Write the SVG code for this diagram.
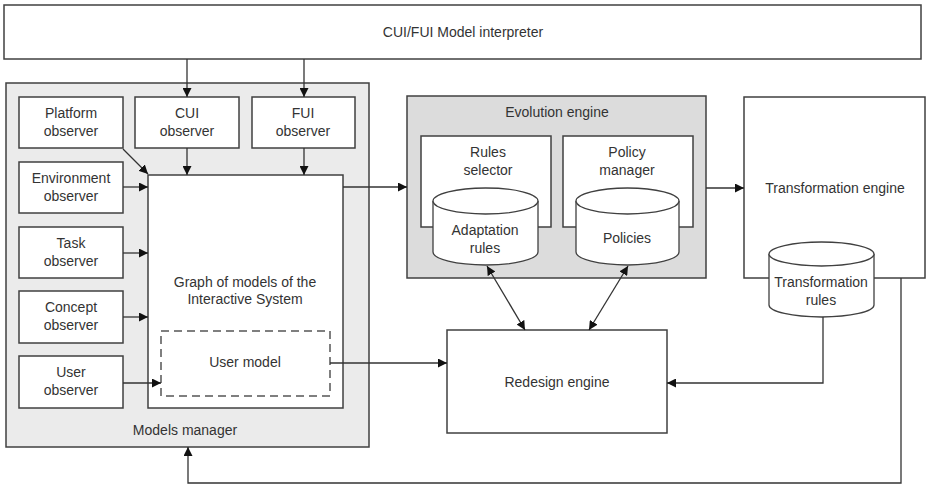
<svg xmlns="http://www.w3.org/2000/svg" width="926" height="487" viewBox="0 0 926 487">
<style>
.box{fill:#fff;stroke:#404040;stroke-width:1.5}
.grp1{fill:#ebebeb;stroke:#404040;stroke-width:1.5}
.grp2{fill:#dcdcdc;stroke:#404040;stroke-width:1.5}
.dash{fill:none;stroke:#555;stroke-width:1.5;stroke-dasharray:8,5}
.cyl{fill:#fff;stroke:#404040;stroke-width:1.3}
text{font-family:"Liberation Sans",Arial,sans-serif;font-size:14px;fill:#333;text-anchor:middle}
.c{fill:none;stroke:#333;stroke-width:1.3}
</style>
<defs>
<marker id="a" viewBox="0 0 10 10" refX="10" refY="5" markerWidth="9" markerHeight="9" markerUnits="userSpaceOnUse" orient="auto-start-reverse">
<path d="M0,0 L10,5 L0,10 Z" fill="#111"/>
</marker>
</defs>

<g id="interpreter">
<rect class="box" x="4" y="5" width="917" height="54"/>
<text x="463" y="37">CUI/FUI Model interpreter</text>
</g>

<g id="models-manager">
<rect class="grp1" x="6" y="83" width="363" height="364"/>
<text x="185" y="435">Models manager</text>
</g>

<g id="platform-observer">
<rect class="box" x="19" y="97" width="104" height="51"/>
<text x="71" y="118">Platform</text><text x="71" y="136">observer</text>
</g>
<g id="cui-observer">
<rect class="box" x="135" y="97" width="104" height="51"/>
<text x="187" y="118">CUI</text><text x="187" y="136">observer</text>
</g>
<g id="fui-observer">
<rect class="box" x="252" y="97" width="103" height="51"/>
<text x="303" y="118">FUI</text><text x="303" y="136">observer</text>
</g>
<g id="environment-observer">
<rect class="box" x="19" y="162" width="104" height="51"/>
<text x="71" y="183">Environment</text><text x="71" y="201">observer</text>
</g>
<g id="task-observer">
<rect class="box" x="19" y="227" width="104" height="51"/>
<text x="71" y="248">Task</text><text x="71" y="266">observer</text>
</g>
<g id="concept-observer">
<rect class="box" x="19" y="291" width="104" height="52"/>
<text x="71" y="312">Concept</text><text x="71" y="330">observer</text>
</g>
<g id="user-observer">
<rect class="box" x="19" y="356" width="104" height="52"/>
<text x="71" y="377">User</text><text x="71" y="395">observer</text>
</g>

<g id="graph-of-models">
<rect class="box" x="148" y="175" width="195" height="233"/>
<text x="245" y="287">Graph of models of the</text>
<text x="245" y="304">Interactive System</text>
</g>
<g id="user-model">
<rect class="dash" x="161" y="331" width="169" height="65"/>
<text x="245" y="367">User model</text>
</g>

<g id="evolution-engine">
<rect class="grp2" x="407" y="96" width="299" height="182"/>
<text x="557" y="117">Evolution engine</text>
</g>
<g id="rules-selector">
<rect class="box" x="421" y="136" width="130" height="91"/>
<text x="488" y="157">Rules</text><text x="488" y="175">selector</text>
</g>
<g id="policy-manager">
<rect class="box" x="563" y="136" width="130" height="91"/>
<text x="627" y="157">Policy</text><text x="627" y="175">manager</text>
</g>
<g id="adaptation-rules">
<path class="cyl" d="M433,201 A52.5,13 0 0 1 538,201 L538,252 A52.5,13 0 0 1 433,252 Z"/>
<path class="cyl" fill="none" d="M433,201 A52.5,13 0 0 0 538,201"/>
<text x="485" y="235">Adaptation</text><text x="485" y="253">rules</text>
</g>
<g id="policies">
<path class="cyl" d="M576,201 A51.5,13 0 0 1 679,201 L679,252 A51.5,13 0 0 1 576,252 Z"/>
<path class="cyl" fill="none" d="M576,201 A51.5,13 0 0 0 679,201"/>
<text x="627" y="243">Policies</text>
</g>

<g id="transformation-engine">
<rect class="box" x="744" y="97" width="181" height="181"/>
<text x="835" y="193">Transformation engine</text>
</g>
<g id="transformation-rules">
<path class="cyl" d="M769,254 A52.5,12 0 0 1 874,254 L874,305 A52.5,12 0 0 1 769,305 Z"/>
<path class="cyl" fill="none" d="M769,254 A52.5,12 0 0 0 874,254"/>
<text x="821" y="287">Transformation</text><text x="821" y="305">rules</text>
</g>

<g id="redesign-engine">
<rect class="box" x="447" y="330" width="220" height="103"/>
<text x="557" y="387">Redesign engine</text>
</g>

<g id="connectors">
<path class="c" marker-end="url(#a)" d="M187,59 V97"/>
<path class="c" marker-end="url(#a)" d="M304,59 V97"/>
<path class="c" marker-end="url(#a)" d="M187,148 V175"/>
<path class="c" marker-end="url(#a)" d="M304,148 V175"/>
<path class="c" marker-end="url(#a)" d="M123,149 L148,174"/>
<path class="c" marker-end="url(#a)" d="M123,187 H148"/>
<path class="c" marker-end="url(#a)" d="M123,253 H148"/>
<path class="c" marker-end="url(#a)" d="M123,317 H148"/>
<path class="c" marker-end="url(#a)" d="M123,383 H161"/>
<path class="c" marker-end="url(#a)" d="M343,187 H407"/>
<path class="c" marker-end="url(#a)" d="M706,188 H744"/>
<path class="c" marker-end="url(#a)" d="M330,363 H447"/>
<path class="c" marker-start="url(#a)" marker-end="url(#a)" d="M487,266 L525,330"/>
<path class="c" marker-start="url(#a)" marker-end="url(#a)" d="M628,266 L589,330"/>
<path class="c" marker-end="url(#a)" d="M823,317 V383 H667"/>
<path class="c" marker-end="url(#a)" d="M901,278 V483 H188 V447"/>
</g>
</svg>
